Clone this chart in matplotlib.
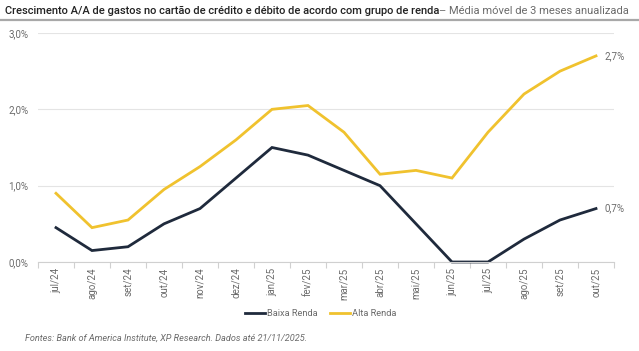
"""Crescimento A/A de gastos por grupo de renda - linha com duas séries."""

import matplotlib

matplotlib.use("Agg")
import matplotlib.pyplot as plt
from matplotlib.lines import Line2D
from matplotlib.ticker import FixedLocator, FuncFormatter

MONTHS = [
    "jul/24", "ago/24", "set/24", "out/24", "nov/24", "dez/24",
    "jan/25", "fev/25", "mar/25", "abr/25", "mai/25", "jun/25",
    "jul/25", "ago/25", "set/25", "out/25",
]
BAIXA_RENDA = [0.45, 0.15, 0.20, 0.50, 0.70, 1.10, 1.50, 1.40, 1.20, 1.00, 0.50, 0.00, 0.00, 0.30, 0.55, 0.70]
ALTA_RENDA = [0.90, 0.45, 0.55, 0.95, 1.25, 1.60, 2.00, 2.05, 1.70, 1.15, 1.20, 1.10, 1.70, 2.20, 2.50, 2.70]
Y_TICKS = [0.0, 1.0, 2.0, 3.0]

DARK = "#1f2a3c"
YELLOW = "#f0c22e"
GRAY_TEXT = "#6b6b6b"
GRID = "#e4e4e4"
FONT = "Roboto"

W, H = 639, 351
fig = plt.figure(figsize=(W / 100, H / 100), dpi=100)
plt.rcParams["font.family"] = [FONT, "DejaVu Sans"]


def px(x, y):
    return x / W, 1 - y / H


ax = fig.add_axes([38 / W, (H - 262) / H, (614 - 38) / W, (262 - 33) / H])
x = list(range(len(MONTHS)))
ax.plot(x, BAIXA_RENDA, color=DARK, lw=2.0, solid_joinstyle="miter", clip_on=False)
ax.plot(x, ALTA_RENDA, color=YELLOW, lw=2.0, solid_joinstyle="miter", clip_on=False)

ax.set_xlim(-0.5, len(MONTHS) - 0.5)
ax.set_ylim(0, 3.0)
ax.yaxis.set_major_locator(FixedLocator(Y_TICKS))
ax.yaxis.set_major_formatter(FuncFormatter(lambda v, _: f"{v:.1f}%".replace(".", ",")))
ax.grid(axis="y", color=GRID, lw=0.8)
ax.set_axisbelow(True)
for side in ("top", "right", "left"):
    ax.spines[side].set_visible(False)
ax.spines["bottom"].set_color("#d0d0d0")
ax.spines["bottom"].set_linewidth(0.8)
ax.tick_params(axis="y", length=0, pad=7, labelsize=7, labelcolor=GRAY_TEXT)

ax.set_xticks(x)
ax.set_xticklabels(MONTHS, rotation=90, fontsize=7, color=GRAY_TEXT)
ax.tick_params(axis="x", which="major", length=0, pad=4)
ax.set_xticks([i - 0.5 for i in range(len(MONTHS) + 1)], minor=True)
ax.tick_params(axis="x", which="minor", length=4, color="#d0d0d0", width=0.8)

for series in (BAIXA_RENDA, ALTA_RENDA):
    ax.annotate(f"{series[-1]:.1f}%".replace(".", ","), (x[-1], series[-1]),
                xytext=(6, 0), textcoords="offset points", va="center",
                fontsize=7, color=GRAY_TEXT, annotation_clip=False)

# title: bold part then gray part, scaled to fill the width
bold_txt = "Crescimento A/A de gastos no cartão de crédito e débito de acordo com grupo de renda"
gray_txt = "– Média móvel de 3 meses anualizada"
renderer = fig.canvas.get_renderer()
size = 8.0
t1 = fig.text(*px(5, 11), bold_txt, fontsize=size, fontweight="medium", color="#222222", va="center")
t2 = fig.text(0, px(0, 11)[1], gray_txt, fontsize=size, color=GRAY_TEXT, va="center")
w1 = t1.get_window_extent(renderer).width
w2 = t2.get_window_extent(renderer).width
size = size * (633 - 5) / (w1 + w2)
t1.set_fontsize(size)
t2.set_fontsize(size)
w1 = t1.get_window_extent(renderer).width
t2.set_x((5 + w1) / W)

fig.add_artist(Line2D([0, 1], [1 - 19.5 / H] * 2, color="#a8a8a8", lw=1.6))

# legend
leg_y = 313
fig.add_artist(Line2D([245 / W, 265 / W], [px(0, leg_y)[1]] * 2, color=DARK, lw=2.0))
fig.text(*px(267, leg_y), "Baixa Renda", fontsize=6.7, color=GRAY_TEXT, va="center")
fig.add_artist(Line2D([330 / W, 350 / W], [px(0, leg_y)[1]] * 2, color=YELLOW, lw=2.0))
fig.text(*px(352, leg_y), "Alta Renda", fontsize=6.7, color=GRAY_TEXT, va="center")

fig.text(*px(25, 338), "Fontes: Bank of America Institute, XP Research. Dados até 21/11/2025.",
         fontsize=6.6, style="italic", color=GRAY_TEXT, va="center")

fig.savefig("out.png", dpi=100)
